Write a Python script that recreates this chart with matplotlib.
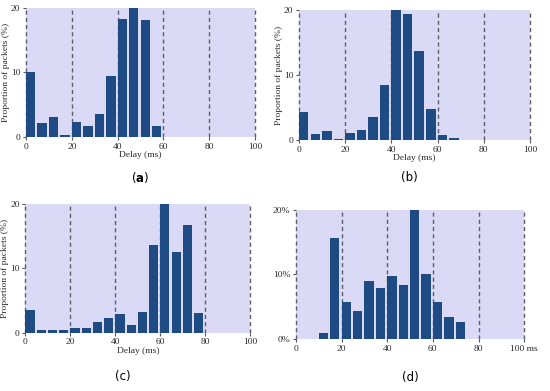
import matplotlib
matplotlib.use('Agg')
import matplotlib.pyplot as plt
import numpy as np

# proportion of packets (%) per 5 ms delay bin, starting at 0 ms
delay_a = [10.0, 2.1, 3.1, 0.3, 2.4, 1.75, 3.55, 9.5, 18.3, 20.0, 18.2, 1.75]
delay_b = [4.3, 0.9, 1.4, 0.15, 1.1, 1.5, 3.6, 8.4, 20.0, 19.4, 13.7, 4.7, 0.7, 0.25]
delay_c = [3.5, 0.5, 0.5, 0.4, 0.67, 0.72, 1.65, 2.3, 2.9, 1.2, 3.3, 13.7, 20.0, 12.5, 16.8, 3.0]
delay_d = [0.0, 0.0, 0.9, 15.6, 5.7, 4.3, 9.0, 7.9, 9.7, 8.35, 20.0, 10.1, 5.7, 3.4, 2.6]

xticks = [0, 20, 40, 60, 80, 100]
yticks = [0, 10, 20]
captions = [r'($\mathbf{a}$)', '(b)', '(c)', '(d)']

BG = '#dadaf6'
BAR = '#1f4b85'
SERIF = 'Liberation Serif'

fig = plt.figure(figsize=(5.5, 3.91), dpi=100)
fig.patch.set_facecolor('white')

positions = [
    [0.0473, 0.6496, 0.4164, 0.330],
    [0.5436, 0.6420, 0.4200, 0.332],
    [0.0460, 0.1490, 0.4090, 0.329],
    [0.5380, 0.1330, 0.4150, 0.3307],
]
datasets = [delay_a, delay_b, delay_c, delay_d]

def draw(ax, vals, last):
    ax.set_facecolor(BG)
    edges = np.arange(len(vals)) * 5
    ax.bar(edges, vals, width=4.1, align='edge', color=BAR, zorder=3)
    for x in xticks:
        ax.axvline(x, color='#5e5e6a', lw=1.0, ls=(0, (3, 2.2)), zorder=2, clip_on=False)
    ax.set_xlim(0, 100)
    ax.set_ylim(0, 20)
    for s in ax.spines.values():
        s.set_visible(False)
    ax.set_xticks(xticks)
    ax.set_yticks(yticks)
    ax.tick_params(axis='both', length=2.5, width=0.8, color='#555555', pad=1.5,
                   labelsize=6.8, labelcolor='#2a2a2a')
    if last:
        ax.set_xticklabels(['0', '20', '40', '60', '80', '100 ms'])
        ax.set_yticklabels(['0%', '10%', '20%'])
    else:
        ax.set_xlabel('Delay (ms)', fontfamily=SERIF, fontsize=6.8, color='#2a2a2a', labelpad=0.5)
        ax.set_ylabel('Proportion of packets (%)', fontfamily=SERIF, fontsize=6.8,
                      color='#2a2a2a', labelpad=1)
    for lab in ax.get_xticklabels() + ax.get_yticklabels():
        lab.set_fontfamily(SERIF)

for i, (pos, vals) in enumerate(zip(positions, datasets)):
    ax = fig.add_axes(pos)
    draw(ax, vals, i == 3)

cap_xy = [(0.2545, 0.545), (0.745, 0.545), (0.223, 0.036), (0.747, 0.034)]
for (cx, cy), cap in zip(cap_xy, captions):
    fig.text(cx, cy, cap, ha='center', va='center', fontsize=8.5, fontfamily='DejaVu Sans')

fig.savefig('out.png', dpi=100, facecolor='white')
